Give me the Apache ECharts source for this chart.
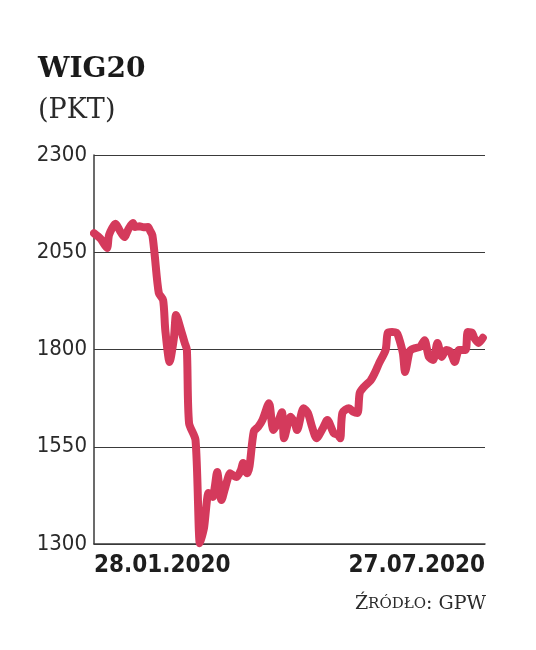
<!DOCTYPE html>
<html>
<head>
<meta charset="utf-8">
<script src="https://cdn.jsdelivr.net/npm/echarts@6/dist/echarts.min.js"></script>
<style>html,body{margin:0;padding:0;background:#fff}#c{width:536px;height:650px}</style>
</head>
<body>
<div id="c"></div>
<script>
const titleText = 'WIG20';
const unitText = '(PKT)';
const sourceText = 'Źródło: GPW';
const startDate = '2020-01-28';
const endDate = '2020-07-27';
const yTicks = [1300, 1550, 1800, 2050, 2300];

const dates = [
  '2020-01-28','2020-01-31','2020-02-03','2020-02-04','2020-02-07','2020-02-09','2020-02-11','2020-02-13',
  '2020-02-15','2020-02-16','2020-02-18','2020-02-20','2020-02-22','2020-02-23','2020-02-24','2020-02-25',
  '2020-02-27','2020-02-29','2020-03-01','2020-03-03','2020-03-05','2020-03-06','2020-03-08','2020-03-10',
  '2020-03-11','2020-03-12','2020-03-15','2020-03-17','2020-03-18','2020-03-19','2020-03-21','2020-03-22',
  '2020-03-23','2020-03-24','2020-03-25','2020-03-27','2020-03-29','2020-03-31','2020-04-01','2020-04-03',
  '2020-04-05','2020-04-06','2020-04-07','2020-04-08','2020-04-09','2020-04-11','2020-04-13','2020-04-15',
  '2020-04-18','2020-04-20','2020-04-22','2020-04-24','2020-04-25','2020-04-28','2020-04-30','2020-05-01',
  '2020-05-04','2020-05-06','2020-05-08','2020-05-10','2020-05-13','2020-05-15','2020-05-18','2020-05-20',
  '2020-05-21','2020-05-22','2020-05-25','2020-05-27','2020-05-29','2020-05-30','2020-06-01','2020-06-04',
  '2020-06-06','2020-06-08','2020-06-11','2020-06-12','2020-06-14','2020-06-16','2020-06-17','2020-06-19',
  '2020-06-20','2020-06-22','2020-06-23','2020-06-25','2020-06-27','2020-06-29','2020-07-01','2020-07-03',
  '2020-07-05','2020-07-07','2020-07-09','2020-07-11','2020-07-13','2020-07-15','2020-07-18','2020-07-19',
  '2020-07-21','2020-07-22','2020-07-24','2020-07-26'
];
const values = [
  2099, 2085, 2061, 2095, 2123, 2105, 2089, 2110,
  2125, 2115, 2117, 2114, 2115, 2105, 2094, 2048,
  1945, 1927, 1850, 1768, 1830, 1889, 1855, 1817,
  1799, 1611, 1567, 1302, 1320, 1344, 1431, 1425,
  1421, 1450, 1485, 1413, 1450, 1482, 1478, 1472,
  1490, 1508, 1490, 1482, 1500, 1590, 1601, 1619,
  1662, 1593, 1611, 1639, 1572, 1627, 1610, 1593,
  1649, 1637, 1600, 1572, 1598, 1619, 1585, 1580,
  1572, 1637, 1649, 1640, 1637, 1688, 1704, 1720,
  1740, 1765, 1799, 1843, 1845, 1843, 1832, 1790,
  1742, 1794, 1800, 1804, 1807, 1824, 1781, 1773,
  1817, 1781, 1799, 1794, 1768, 1799, 1799, 1845,
  1843, 1830, 1817, 1830
];

function toTs(s) {
  const p = s.split('-');
  return Date.UTC(+p[0], +p[1] - 1, +p[2]);
}
function fmtDate(ts) {
  const d = new Date(ts);
  const p = n => (n < 10 ? '0' : '') + n;
  return p(d.getUTCDate()) + '.' + p(d.getUTCMonth() + 1) + '.' + d.getUTCFullYear();
}
const minTs = toTs(startDate);
const maxTs = toTs(endDate);
const narrow = "'DejaVu Sans Condensed', 'Liberation Sans Narrow', 'Arial Narrow', Roboto, sans-serif";

const chart = echarts.init(document.getElementById('c'), null, {renderer: 'canvas'});
chart.setOption({
  animation: false,
  backgroundColor: '#ffffff',
  title: [{
    text: titleText,
    left: 33, top: 51,
    textStyle: {fontFamily: 'DejaVu Serif', fontWeight: 'bold', fontSize: 28, color: '#1a1a1a'}
  }, {
    text: unitText,
    left: 33, top: 92,
    textStyle: {fontFamily: 'DejaVu Serif', fontWeight: 'normal', fontSize: 27, color: '#2a2a2a'}
  }, {
    text: '{a|Ź}{b|RÓDŁO}{a|: GPW}',
    right: 45, top: 590,
    textStyle: {
      fontWeight: 'normal',
      rich: {
        a: {fontFamily: 'DejaVu Serif', fontWeight: 'normal', fontSize: 19, color: '#2a2a2a'},
        b: {fontFamily: 'DejaVu Serif', fontWeight: 'normal', fontSize: 15, color: '#2a2a2a'}
      }
    }
  }],
  grid: {left: 94, right: 51, top: 155, bottom: 106, containLabel: false},
  xAxis: {
    type: 'value',
    min: minTs, max: maxTs, interval: maxTs - minTs,
    axisLine: {show: true, lineStyle: {color: '#3a3a3a', width: 1.5}},
    axisTick: {show: false},
    splitLine: {show: false},
    axisLabel: {
      showMinLabel: true, showMaxLabel: true,
      formatter: v => fmtDate(v),
      alignMinLabel: 'left', alignMaxLabel: 'right',
      margin: 10,
      fontFamily: narrow, fontWeight: 'bold', fontSize: 24, color: '#1e1e1e'
    }
  },
  yAxis: {
    type: 'value',
    min: yTicks[0], max: yTicks[yTicks.length - 1], interval: yTicks[1] - yTicks[0],
    axisLine: {show: true, lineStyle: {color: '#3a3a3a', width: 1.5}},
    axisTick: {show: false},
    splitLine: {show: true, lineStyle: {color: '#3a3a3a', width: 1.2}},
    axisLabel: {
      margin: 7,
      formatter: v => String(v),
      fontFamily: narrow, fontSize: 22, color: '#2a2a2a'
    }
  },
  series: [{
    type: 'line',
    data: dates.map((d, i) => [toTs(d), values[i]]),
    showSymbol: false,
    smooth: 0.25,
    lineStyle: {color: '#d43a5c', width: 8, cap: 'round', join: 'round'},
    z: 3
  }]
});
</script>
</body>
</html>
